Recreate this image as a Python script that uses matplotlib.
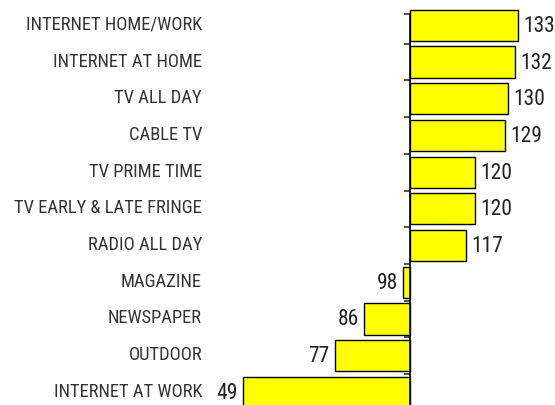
import numpy as np
import matplotlib.pyplot as plt
import matplotlib.transforms as mtransforms

categories = ['INTERNET HOME/WORK', 'INTERNET AT HOME', 'TV ALL DAY', 'CABLE TV',
              'TV PRIME TIME', 'TV EARLY & LATE FRINGE', 'RADIO ALL DAY', 'MAGAZINE',
              'NEWSPAPER', 'OUTDOOR', 'INTERNET AT WORK']
values = [133, 132, 130, 129, 120, 120, 117, 98, 86, 77, 49]
base = 100

font = ['Roboto Condensed', 'Liberation Sans', 'DejaVu Sans']

fig = plt.figure(figsize=(5.55, 4.06), dpi=100)
W, H = 555, 406
# axes in pixel terms: left 212, right 555, top 8, bottom 411.7
top, bot = 8, 411.7
ax = fig.add_axes([212 / W, (H - bot) / H, (555 - 212) / W, (bot - top) / H])

y = np.arange(len(categories))
ax.barh(y, [v - base for v in values], left=base, height=0.85,
        color='#FFFF00', edgecolor='black', linewidth=1, zorder=2)

ax.set_xlim(100 - (410 - 212) / 3.27, 100 + (555 - 410) / 3.27)
ax.set_ylim(len(categories) - 0.5, -0.5)

for s in ['top', 'right', 'bottom']:
    ax.spines[s].set_visible(False)
ax.spines['left'].set_position(('data', base))
ax.spines['left'].set_linewidth(1.2)
ax.spines['left'].set_zorder(3)
ax.spines['left'].set_bounds(len(categories) - 0.5, -0.3)
ax.set_xticks([])
ax.set_yticks([-0.3] + list(np.arange(0.5, len(categories) - 0.5, 1)))
ax.set_yticklabels([])
ax.tick_params(axis='y', length=4, width=1.2, direction='out', color='#333333')

trans = mtransforms.blended_transform_factory(fig.transFigure, ax.transData)
for yi, c in zip(y, categories):
    ax.text(202 / W, yi - 0.04, c, transform=trans, ha='right', va='center',
            fontsize=13.3, family=font, color='#333333')

for yi, v in zip(y, values):
    if v >= base:
        ax.text(v + 1.6, yi, str(v), ha='left', va='center', fontsize=15.5,
                family=font, color='#222222')
    else:
        ax.text(v - 1.6, yi, str(v), ha='right', va='center', fontsize=15.5,
                family=font, color='#222222')

fig.savefig('out.png', dpi=100)
